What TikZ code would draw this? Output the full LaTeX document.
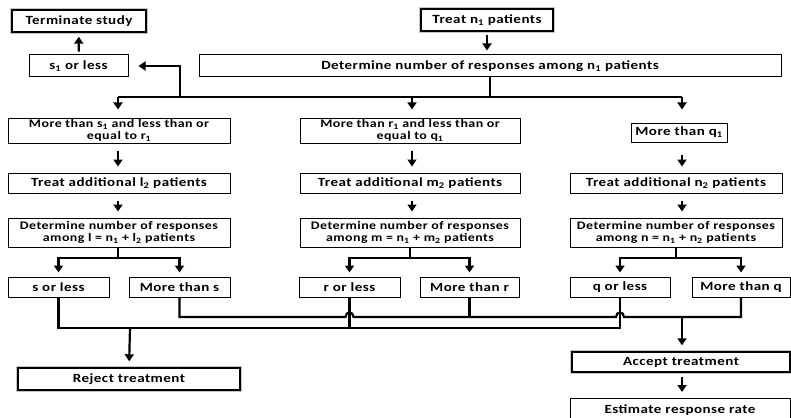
\documentclass[tikz,border=0pt]{standalone}
\usepackage{fontspec}
\setmainfont{Carlito}[FakeStretch=1.2,LetterSpace=4]
\usetikzlibrary{arrows.meta}
\begin{document}
\begin{tikzpicture}[x=1pt,y=-1pt,
  box/.style={draw, line width=1pt, fill=white, font=\bfseries\fontsize{12.5}{12}\selectfont, align=center, inner sep=0pt},
  twoline/.style={box, font=\bfseries\fontsize{11.6}{12}\selectfont},
  key/.style={box, line width=1.4pt, preaction={draw=gray!45, line width=4.5pt}},
  ln/.style={line width=2.2pt},
  arr/.style={ln, -{Triangle[width=9pt,length=7pt]}},
]
\useasboundingbox (0,0) rectangle (791,417);
% top
\node[key, minimum width=134pt, minimum height=22pt] (term) at (79,21) {Terminate study};
\node[box, minimum width=99pt, minimum height=22pt] (s1) at (78.5,66) {s\textsubscript{1} or less};
\node[key, minimum width=132pt, minimum height=22pt] (treat1) at (487,20) {Treat n\textsubscript{1} patients};
\node[box, minimum width=582pt, minimum height=22pt] (det1) at (490,66) {Determine number of responses among n\textsubscript{1} patients};
% row 2
\node[twoline, minimum width=222pt, minimum height=25pt] (a1) at (119,130.5) {More than s\textsubscript{1} and less than or\\ equal to r\textsubscript{1}};
\node[twoline, minimum width=220pt, minimum height=25pt] (b1) at (410,130.5) {More than r\textsubscript{1} and less than or\\ equal to q\textsubscript{1}};
\node[box, minimum width=96pt, minimum height=19pt] (c1) at (679,132.5) {More than q\textsubscript{1}};
% row 3
\node[box, minimum width=222pt, minimum height=20pt] (a2) at (119,183) {Treat additional l\textsubscript{2} patients};
\node[box, minimum width=220pt, minimum height=20pt] (b2) at (410,183) {Treat additional m\textsubscript{2} patients};
\node[box, minimum width=212pt, minimum height=20pt] (c2) at (676,183) {Treat additional n\textsubscript{2} patients};
% row 4
\node[twoline, minimum width=222pt, minimum height=29pt] (a3) at (119,232.5) {Determine number of responses\\ among l = n\textsubscript{1} + l\textsubscript{2} patients};
\node[twoline, minimum width=220pt, minimum height=29pt] (b3) at (410,232.5) {Determine number of responses\\ among m = n\textsubscript{1} + m\textsubscript{2} patients};
\node[twoline, minimum width=212pt, minimum height=29pt] (c3) at (676,232.5) {Determine number of responses\\ among n = n\textsubscript{1} + n\textsubscript{2} patients};
% row 5
\node[box, minimum width=101pt, minimum height=20pt] (sl) at (58.5,287) {s or less};
\node[box, minimum width=101pt, minimum height=20pt] (ms) at (179.5,287) {More than s};
\node[box, minimum width=101pt, minimum height=20pt] (rl) at (349.5,287) {r or less};
\node[box, minimum width=99pt, minimum height=20pt] (mr) at (469.5,287) {More than r};
\node[box, minimum width=100pt, minimum height=20pt] (ql) at (620,287) {q or less};
\node[box, minimum width=98pt, minimum height=20pt] (mq) at (741,287) {More than q};
% outcomes
\node[key, minimum width=222pt, minimum height=22pt] (reject) at (129,379) {Reject treatment};
\node[key, minimum width=218pt, minimum height=20pt] (accept) at (681,362) {Accept treatment};
\node[box, minimum width=220pt, minimum height=28pt, anchor=north] (estimate) at (680,398) {\raisebox{6pt}{Estimate response rate}};

% coordinates
\coordinate (j0) at (490,97);
\coordinate (jA) at (118,97);
\coordinate (jB) at (412,97);
\coordinate (jC) at (682,97);
\coordinate (jS) at (180,97);
\coordinate (jSt) at (180,66);
\coordinate (ja) at (118,258);
\coordinate (jb) at (410,258);
\coordinate (jc) at (676,258);
\coordinate (rj) at (130,328);
\coordinate (ac) at (682,317);

% top connectors
\draw[arr, shorten <=3pt, shorten >=4pt] (s1) -- (term);
\draw[arr, shorten <=3pt, shorten >=4pt] (treat1.south) -- (treat1.south |- det1.north);
\draw[ln] (det1.south -| j0) -- (j0);
\draw[ln] (jA) -- (jC);
\draw[arr, shorten >=8pt] (jA) -- (jA |- a1.north);
\draw[arr, shorten >=8pt] (jB) -- (jB |- b1.north);
\draw[arr, shorten >=13pt] (jC) -- (jC |- c1.north);
\draw[arr, shorten >=10pt] (jS) -- (jSt) -- (s1.east |- jSt);
% column arrows
\draw[arr, shorten <=7pt, shorten >=6pt] (a1.south -| jA) -- (jA |- a2.north);
\draw[arr, shorten <=7pt, shorten >=6pt] (a2.south -| jA) -- (jA |- a3.north);
\draw[arr, shorten <=7pt, shorten >=6pt] (b1.south -| jB) -- (jB |- b2.north);
\draw[arr, shorten <=7pt, shorten >=6pt] (b2.south -| jB) -- (jB |- b3.north);
\draw[arr, shorten <=12pt, shorten >=6pt] (c1.south -| jC) -- (jC |- c2.north);
\draw[arr, shorten <=7pt, shorten >=6pt] (c2.south -| jC) -- (jC |- c3.north);
% splits
\draw[ln] (a3.south -| ja) -- (ja);
\draw[arr, shorten >=4pt] (ja) -| (sl.north);
\draw[arr, shorten >=4pt] (ja) -| (ms.north);
\draw[ln] (b3.south -| jb) -- (jb);
\draw[arr, shorten >=4pt] (jb) -| (rl.north);
\draw[arr, shorten >=4pt] (jb) -| (mr.north);
\draw[ln] (c3.south -| jc) -- (jc);
\draw[arr, shorten >=4pt] (jc) -| (ql.north);
\draw[arr, shorten >=4pt] (jc) -| (mq.north);
% reject line
\draw[ln] (sl.south) |- (rj) -| (ql.south);
\draw[ln] (rl.south) -- (rl.south |- rj);
\draw[arr, shorten >=6pt] (rj) -- (reject.north);
% accept line with hops
\draw[ln] (ms.south) -- (ms.south |- ac) -- (345.5,317) .. controls (345.5,311) and (353.5,311) .. (353.5,317)
  -- (616,317) .. controls (616,311) and (624,311) .. (624,317) -- (mq.south |- ac) -- (mq.south);
\draw[ln] (mr.south) -- (mr.south |- ac);
\draw[arr, shorten >=6pt] (ac) -- (ac |- accept.north);
\draw[arr, shorten <=4pt, shorten >=6pt] (accept.south -| ac) -- (ac |- estimate.north);
\end{tikzpicture}
\end{document}
